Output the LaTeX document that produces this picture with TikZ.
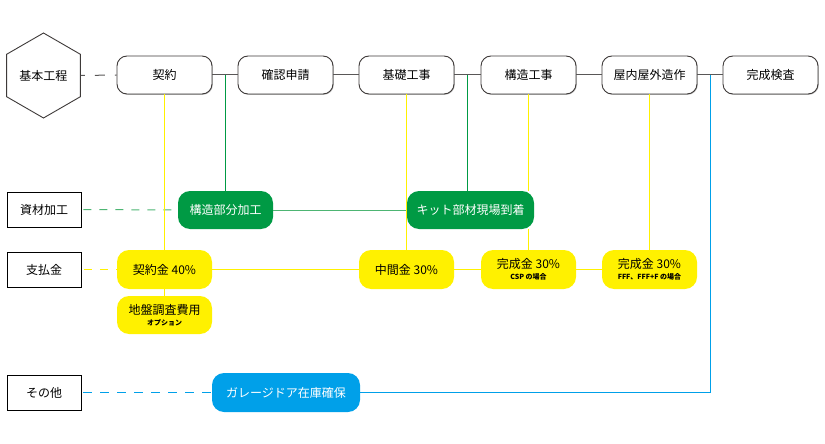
\documentclass[tikz,border=0pt]{standalone}
\usepackage{fontspec}
\setmainfont{Noto Sans CJK JP}
\usetikzlibrary{shapes.geometric,shadows,calc}
\definecolor{lgray}{HTML}{595757}
\definecolor{kgreen}{HTML}{009A44}
\definecolor{kgline}{HTML}{4DB573}
\definecolor{kyellow}{HTML}{FFF100}
\definecolor{kblue}{HTML}{00A0E9}
\definecolor{bdr}{HTML}{3E3A39}
\newcommand\subtx{\fontsize{7}{8}\selectfont\bfseries}
\tikzset{
  txt/.style={font=\fontsize{12}{14}\selectfont},
  stepbox/.style={txt,draw=bdr,line width=0.9pt,fill=white,rounded corners=10pt,minimum width=95pt,minimum height=38pt,inner sep=0pt,
    drop shadow={shadow xshift=0.8pt,shadow yshift=-0.8pt,fill=black!25,opacity=1}},
  labbox/.style={txt,draw=black,line width=0.9pt,fill=white,minimum width=74pt,minimum height=35pt,inner sep=0pt,
    drop shadow={shadow xshift=1pt,shadow yshift=-1pt,fill=black!35,opacity=1}},
  gbox/.style={txt,fill=kgreen,text=white,rounded corners=12pt,minimum height=38pt,inner sep=0pt},
  ybox/.style={txt,fill=kyellow,text=black,rounded corners=12pt,minimum width=95pt,minimum height=39pt,inner sep=0pt,align=center},
  bbox/.style={txt,fill=kblue,text=white,rounded corners=12pt,minimum height=39pt,inner sep=0pt},
  gline/.style={draw=lgray,line width=1pt},
  dashg/.style={draw=lgray,line width=1pt,dash pattern=on 10pt off 10pt,dash phase=6pt},
  yline/.style={draw=kyellow,line width=1pt},
  grline/.style={draw=kgline,line width=1pt},
  gvline/.style={draw=kgreen,line width=1pt},
  bline/.style={draw=kblue,line width=1pt}
}
\begin{document}
\begin{tikzpicture}[x=1pt,y=-1pt]
\useasboundingbox (0,0) rectangle (825,444);
% row labels
\node[txt,draw=bdr,line width=0.9pt,fill=white,regular polygon,regular polygon sides=6,shape border rotate=30,minimum size=85pt,inner sep=0pt] (hex) at (43.5,75.5) {基本工程};
\node[labbox] (lz) at (44,209.5) {資材加工};
\node[labbox] (lp) at (44,269.5) {支払金};
\node[labbox] (lo) at (44,392.5) {その他};
% top row
\node[stepbox] (s1) at (164.5,75) {契約};
\node[stepbox] (s2) at (285.5,75) {確認申請};
\node[stepbox] (s3) at (406.5,75) {基礎工事};
\node[stepbox] (s4) at (528.5,75) {構造工事};
\node[stepbox] (s5) at (649.5,75) {屋内屋外造作};
\node[stepbox] (s6) at (770.5,75) {完成検査};
% green row
\node[gbox,minimum width=95pt] (g1) at (225.5,210) {構造部分加工};
\node[gbox,minimum width=127pt] (g2) at (470.5,210) {キット部材現場到着};
% yellow row
\node[ybox] (y1) at (164.5,269.5) {契約金 40\%};
\node[ybox] (y2) at (406.5,269.5) {中間金 30\%};
\node[ybox] (y3) at (528.5,269.5) {完成金 30\%\\[-3pt]{\subtx CSP の場合}};
\node[ybox] (y4) at (649.5,269.5) {完成金 30\%\\[-3pt]{\subtx FFF、FFF+F の場合}};
\node[ybox,minimum height=38pt] (y5) at (164.5,315) {地盤調査費用\\[-3pt]{\subtx オプション}};
% blue
\node[bbox,minimum width=148pt] (b1) at (286,392.5) {ガレージドア在庫確保};
\coordinate (m12) at ($(s1.east)!0.5!(s2.west)$);
\coordinate (m34) at ($(s3.east)!0.5!(s4.west)$);
\coordinate (m56) at ($(s5.east)!0.5!(s6.west)$);
\coordinate (bc) at (m56 |- b1.east);
% connectors
\draw[dashg] (hex.east) -- (s1.west);
\draw[gline] (s1.east) -- (s2.west);
\draw[gline] (s2.east) -- (s3.west);
\draw[gline] (s3.east) -- (s4.west);
\draw[gline] (s4.east) -- (s5.west);
\draw[gline] (s5.east) -- (s6.west);
\draw[gvline] (m12) -- (m12 |- g1.north);
\draw[gvline] (m34) -- (m34 |- g2.north);
\draw[grline,dash pattern=on 8pt off 8pt,dash phase=-2pt] (lz.east) -- (g1.west);
\draw[grline] (g1.east) -- (g2.west);
\draw[yline] (s1.south) -- (y1.north);
\draw[yline] (y1.south) -- (y5.north);
\draw[yline] (s3.south) -- (y2.north);
\draw[yline] (s4.south) -- (s4.south |- g2.north);
\draw[yline] (s4.south |- g2.south) -- (y3.north);
\draw[yline] (s5.south) -- (y4.north);
\draw[yline,dash pattern=on 8pt off 8pt,dash phase=-3pt] (lp.east) -- (y1.west);
\draw[yline] (y1.east) -- (y2.west);
\draw[yline] (y2.east) -- (y3.west);
\draw[yline] (y3.east) -- (y4.west);
\draw[bline,dash pattern=on 9pt off 8pt,dash phase=-2pt] (lo.east) -- (b1.west);
\draw[bline] (b1.east) -- (bc) -- (m56);
\end{tikzpicture}
\end{document}
